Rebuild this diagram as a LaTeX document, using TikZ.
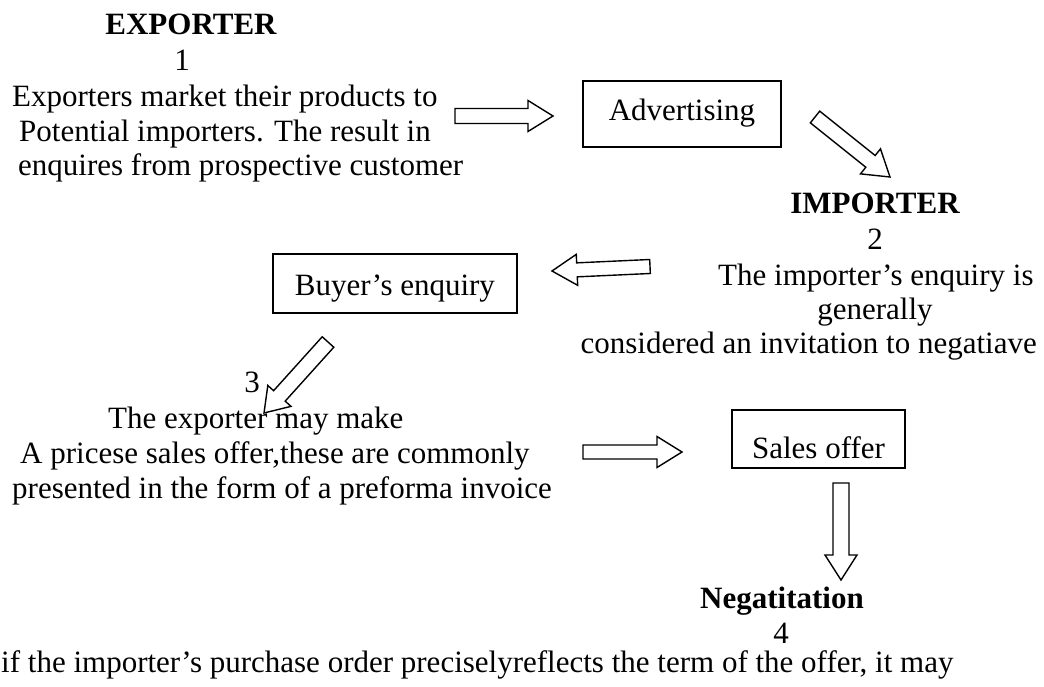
\documentclass[tikz,border=0pt]{standalone}
\usepackage{fontspec}
\setmainfont{Liberation Serif}
\usetikzlibrary{calc}

% hollow block arrow from #1 to #2: shaft half-width #3, head half-width #4, head length #5
\newcommand\fatarrow[5]{%
  \coordinate (fa-c) at ($(#2)!#5!(#1)$);
  \draw[blockarrow] ($(#1)!#3!90:(#2)$) -- ($(fa-c)!#3!90:(#2)$) -- ($(fa-c)!#4!90:(#2)$)
    -- (#2) -- ($(fa-c)!#4!-90:(#2)$) -- ($(fa-c)!#3!-90:(#2)$) -- ($(#1)!#3!-90:(#2)$) -- cycle;}

\tikzset{
  txt/.style={inner sep=0pt, font=\fontsize{31}{35}\selectfont},
  head/.style={txt, font=\fontsize{31}{35}\selectfont\bfseries},
  stagebox/.style={draw, line width=1.5pt, inner sep=0pt, font=\fontsize{31}{35}\selectfont,
                   text height=21pt, text depth=7pt},
  blockarrow/.style={draw, line width=1.4pt, line join=miter},
}

\begin{document}
\begin{tikzpicture}[x=1pt, y=-1pt]
\useasboundingbox (0,0) rectangle (1044,687);

% --- exporter
\node[head, anchor=base] (exp) at (191,35) {EXPORTER};
\node[txt, anchor=base] (n1) at (182,71) {1};
\node[txt, anchor=base west] (e1) at (12,107) {Exporters market their products to};
\node[txt, anchor=base west] (e2) at (19,142) {Potential importers. The result in};
\node[txt, anchor=base west] (e3) at (18,176) {enquires from prospective customer};

\node[stagebox, minimum width=198pt, minimum height=66pt] (adv) at (682,114) {Advertising};

% --- importer
\node[head, anchor=base] (imp) at (875,214) {IMPORTER};
\node[txt, anchor=base] (n2) at (875,249) {2};
\node[txt, anchor=base west] (i1) at (718,285) {The importer’s enquiry is};
\node[txt, anchor=base] (i2) at (875,319) {generally};
\node[txt, anchor=base east] (i3) at (1037,353) {considered an invitation to negatiave};

\node[stagebox, minimum width=244pt, minimum height=59pt, text height=23pt, text depth=0pt]
  (buy) at (395,283.5) {Buyer’s enquiry};

% --- offer
\node[txt, anchor=base] (n3) at (252,392) {3};
\node[txt, anchor=base west] (o1) at (108,428) {The exporter may make};
\node[txt, anchor=base west] (o2) at (20,463) {A pricese sales offer,these are commonly};
\node[txt, anchor=base west] (o3) at (12,498) {presented in the form of a preforma invoice};

\node[stagebox, minimum width=173pt, minimum height=58pt, text height=38pt, text depth=0pt]
  (sal) at (818.5,439) {Sales offer};

% --- negotiation
\node[head, anchor=base] (neg) at (782,608) {Negatitation};
\node[txt, anchor=base] (n4) at (781,643) {4};
\node[txt, anchor=base west] (g1) at (1,672) {if the importer’s purchase order preciselyreflects the term of the offer, it may};

% --- arrow ends
\coordinate (a1s) at (455,116);  \coordinate (a1e) at (553,116);
\coordinate (a2s) at (815,117);  \coordinate (a2e) at (890,177);
\coordinate (a3s) at (650,266.5);\coordinate (a3e) at (552,271);
\coordinate (a4s) at (328,342);  \coordinate (a4e) at (264,413);
\coordinate (a5s) at (583,452);  \coordinate (a5e) at (682,452);
\coordinate (a6s) at (841,483);  \coordinate (a6e) at (841,580);

\fatarrow{a1s}{a1e}{7.5pt}{15.5pt}{25pt}
\fatarrow{a2s}{a2e}{7.5pt}{16pt}{25pt}
\fatarrow{a3s}{a3e}{7pt}{15.5pt}{25pt}
\fatarrow{a4s}{a4e}{7.8pt}{15.6pt}{23pt}
\fatarrow{a5s}{a5e}{7pt}{15.5pt}{25pt}
\fatarrow{a6s}{a6e}{8pt}{16pt}{25pt}
\end{tikzpicture}
\end{document}
